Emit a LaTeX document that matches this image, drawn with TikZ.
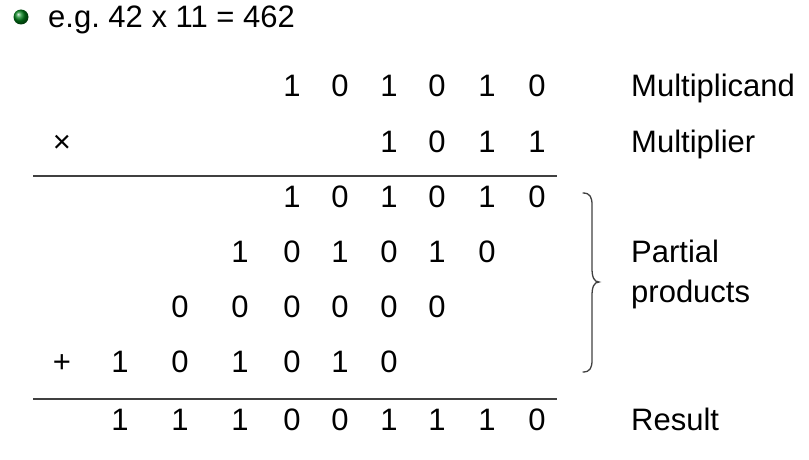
\documentclass[tikz,border=0pt]{standalone}
\usepackage{fontspec}
\setmainfont{Liberation Sans}
\frenchspacing
\begin{document}
\begin{tikzpicture}[x=1pt,y=-1pt,
  digit/.style={anchor=base,inner sep=0pt,font=\fontsize{31}{37}\selectfont},
  lbl/.style={anchor=base west,inner sep=0pt,font=\fontsize{31}{37}\selectfont},
  rule/.style={draw=black!75,line width=1.5pt},
  bracestyle/.style={draw=black!75,line width=1.3pt}]
\useasboundingbox (0,0) rectangle (809,460);
% bullet
\shade[ball color=green!45!black!90!cyan] (21,17) circle (7.5);
\node[lbl] (title) at (48,28) {e.g. 42 x 11 = 462};
% row 1 multiplicand
\foreach \x/\d [count=\i] in {292/1,340/0,389/1,437/0,487/1,537/0}
  \node[digit] (ra\i) at (\x,96) {\d};
% row 2 multiplier
\node[digit] (times) at (62,152) {×};
\foreach \x/\d [count=\i] in {389/1,437/0,487/1,537/1}
  \node[digit] (rb\i) at (\x,152) {\d};
% rule 1
\coordinate (l1a) at (33,176);
\coordinate (l1b) at (557,176);
\draw[rule] (l1a) -- (l1b);
% partial products
\foreach \x/\d [count=\i] in {292/1,340/0,389/1,437/0,487/1,537/0}
  \node[digit] (pa\i) at (\x,207) {\d};
\foreach \x/\d [count=\i] in {240/1,292/0,340/1,389/0,437/1,487/0}
  \node[digit] (pb\i) at (\x,262) {\d};
\foreach \x/\d [count=\i] in {180/0,240/0,292/0,340/0,389/0,437/0}
  \node[digit] (pc\i) at (\x,317) {\d};
\node[digit] (plus) at (62,372) {+};
\foreach \x/\d [count=\i] in {120/1,180/0,240/1,292/0,340/1,389/0}
  \node[digit] (pd\i) at (\x,372) {\d};
% rule 2
\coordinate (l2a) at (33,399);
\coordinate (l2b) at (557,399);
\draw[rule] (l2a) -- (l2b);
% result
\foreach \x/\d [count=\i] in {120/1,180/1,240/1,292/0,340/0,389/1,437/1,487/1,537/0}
  \node[digit] (res\i) at (\x,430) {\d};
% labels
\node[lbl] (mcand) at (631,96) {Multiplicand};
\node[lbl] (mplier) at (631,152) {Multiplier};
\node[lbl] (partial) at (631,262) {Partial};
\node[lbl] (products) at (631,302) {products};
\node[lbl] (result) at (631,430) {Result};
% brace
\coordinate (bt) at (583,193);
\coordinate (bm) at (599,282);
\coordinate (bb) at (583,372);
\draw[bracestyle,line cap=round] (bt) .. controls (590,193) and (592,197) .. (592,205)
  -- (592,268) .. controls (592,277) and (594,282) .. (bm)
  .. controls (594,282) and (592,287) .. (592,296)
  -- (592,360) .. controls (592,368) and (590,372) .. (bb);
\end{tikzpicture}
\end{document}
